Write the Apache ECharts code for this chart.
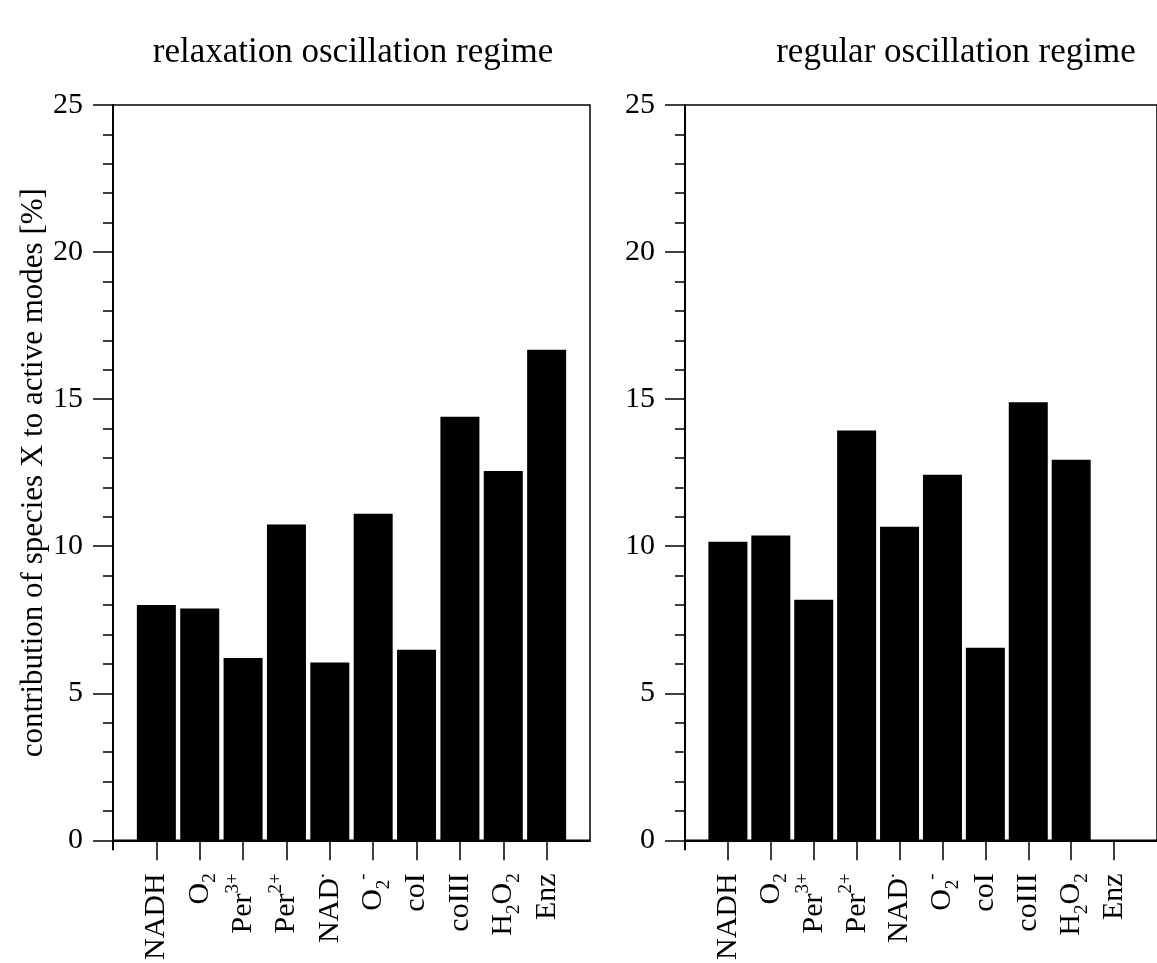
<!DOCTYPE html>
<html>
<head>
<meta charset="utf-8">
<script src="https://cdn.jsdelivr.net/npm/echarts@6/dist/echarts.min.js"></script>
<style>
  html, body { margin: 0; padding: 0; background: #fff; }
  #chart { width: 1157px; height: 963px; }
</style>
</head>
<body>
<div id="chart"></div>
<script>
// Species (category order along the x axis) and their rich-text labels
const species = ['NADH', 'O2', 'Per3+', 'Per2+', 'NAD.', 'O2-', 'coI', 'coIII', 'H2O2', 'Enz'];
const speciesLabels = [
  'NADH', 'O{sub|2}', 'Per{sup|3+}', 'Per{sup|2+}', 'NAD{sup|.}',
  'O{sub|2}{sup|-}', 'coI', 'coIII', 'H{sub|2}O{sub|2}', 'Enz'
];

// Contribution of each species to the active modes [%]
const relaxationValues = [8.00, 7.88, 6.20, 10.74, 6.05, 11.10, 6.48, 14.40, 12.56, 16.68];
const regularValues    = [10.15, 10.36, 8.18, 13.93, 10.66, 12.43, 6.55, 14.89, 12.94, 0];

const panelTitles = ['relaxation oscillation regime', 'regular oscillation regime'];
const yAxisTitle = 'contribution of species X to active modes [%]';

const FONT = 'Liberation Serif';
const positions = species.map((_, i) => i + 1);

// tall base line so that sub/superscripts can sit below/above the main text
const richStyles = {
  sub: { fontFamily: FONT, fontSize: 19, lineHeight: 19, color: '#000', verticalAlign: 'bottom' },
  sup: { fontFamily: FONT, fontSize: 19, lineHeight: 19, color: '#000', verticalAlign: 'top' }
};

function makeXAxes(gridIndex) {
  return [
    {
      gridIndex, type: 'value', min: 0, max: species.length + 1, interval: 1,
      position: 'bottom',
      axisLine: { show: true, onZero: false, lineStyle: { color: '#000', width: 2 } },
      axisTick: { show: true, length: 20, customValues: positions, lineStyle: { color: '#000', width: 1.5 } },
      axisLabel: {
        show: true, customValues: positions, rotate: 90, margin: 33,
        fontFamily: FONT, fontSize: 30, lineHeight: 40, color: '#000',
        formatter: v => speciesLabels[v - 1] || '',
        rich: richStyles
      },
      splitLine: { show: false }
    },
    {
      // short tick where the frame meets the baseline
      gridIndex, type: 'value', min: 0, max: species.length + 1, interval: 1,
      position: 'bottom',
      axisLine: { show: false },
      axisTick: { show: true, length: 10, customValues: [0], lineStyle: { color: '#000', width: 2 } },
      axisLabel: { show: false },
      splitLine: { show: false }
    }
  ];
}

function makeYAxis(gridIndex, withName) {
  return {
    gridIndex, type: 'value', min: 0, max: 25, interval: 5,
    axisLine: { show: true, onZero: false, lineStyle: { color: '#000', width: 2 } },
    axisTick: { show: true, length: 20, lineStyle: { color: '#000', width: 1.5 } },
    minorTick: { show: true, splitNumber: 5, length: 10, lineStyle: { color: '#000', width: 1.5 } },
    axisLabel: { margin: 30, fontFamily: FONT, fontSize: 30, color: '#000' },
    splitLine: { show: false },
    name: withName ? yAxisTitle : '',
    nameLocation: 'middle', nameRotate: 90, nameGap: 60,
    nameTextStyle: { fontFamily: FONT, fontSize: 31, color: '#000' }
  };
}

const xAxes = makeXAxes(0).concat(makeXAxes(1));

const option = {
  backgroundColor: '#fff',
  animation: false,
  title: [
    { text: panelTitles[0], left: 348, top: 30, textAlign: 'center',
      textStyle: { fontFamily: FONT, fontSize: 35, fontWeight: 'normal', color: '#000' } },
    { text: panelTitles[1], left: 951, top: 30, textAlign: 'center',
      textStyle: { fontFamily: FONT, fontSize: 35, fontWeight: 'normal', color: '#000' } }
  ],
  grid: [
    { left: 113, top: 105, width: 477, height: 738, show: true, borderColor: '#000', borderWidth: 1.5, backgroundColor: 'transparent' },
    { left: 685, top: 105, width: 477, height: 738, show: true, borderColor: '#000', borderWidth: 1.5, backgroundColor: 'transparent' }
  ],
  xAxis: xAxes,
  yAxis: [makeYAxis(0, true), makeYAxis(1, false)],
  series: [
    {
      type: 'bar', xAxisIndex: 0, yAxisIndex: 0, barWidth: 39,
      itemStyle: { color: '#000' },
      data: relaxationValues.map((v, i) => [positions[i], v])
    },
    {
      type: 'bar', xAxisIndex: 2, yAxisIndex: 1, barWidth: 39,
      itemStyle: { color: '#000' },
      data: regularValues.map((v, i) => [positions[i], v])
    }
  ]
};

const chart = echarts.init(document.getElementById('chart'), null, { renderer: 'canvas' });
chart.setOption(option);
</script>
</body>
</html>
